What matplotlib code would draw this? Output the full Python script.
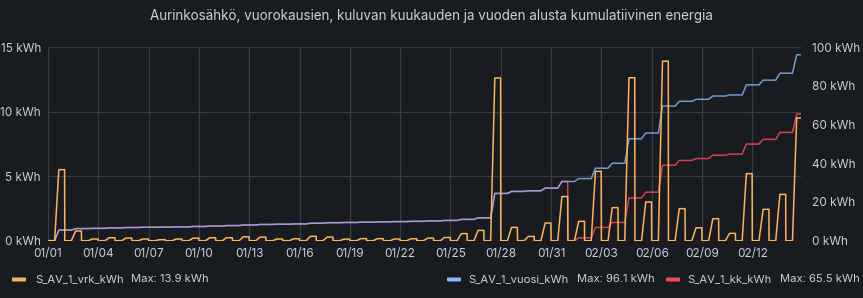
import numpy as np
import pandas as pd
import matplotlib
matplotlib.use("Agg")
import matplotlib.pyplot as plt
import matplotlib.dates as mdates
from matplotlib.patches import FancyBboxPatch

# ---------------- data ----------------
start_date = "2024-01-01"
# daily solar production (kWh), Jan 1 .. Feb 14
daily_kwh = [
    5.50, 0.75, 0.13, 0.23, 0.20, 0.13, 0.08, 0.13, 0.20, 0.23,
    0.23, 0.30, 0.28, 0.13, 0.15, 0.34, 0.28, 0.12, 0.16, 0.16,
    0.13, 0.15, 0.20, 0.25, 0.55, 0.80, 12.60, 1.03, 0.33, 1.37,
    3.42, 1.50, 5.37, 2.56, 12.62, 3.00, 13.90, 2.48, 1.00, 1.70,
    0.57, 5.19, 2.43, 3.59, 9.50,
]
series_names = ["S_AV_1_vrk_kWh", "S_AV_1_vuosi_kWh", "S_AV_1_kk_kWh"]
series_max = ["13.9 kWh", "96.1 kWh", "65.5 kWh"]
left_ticks = [0, 5, 10, 15]
right_ticks = [0, 20, 40, 60, 80, 100]
title = "Aurinkosähkö, vuorokausien, kuluvan kuukauden ja vuoden alusta kumulatiivinen energia"

# intraday accumulation shape (hour of day, fraction of daily total)
prof_hours = [0.0, 9.5, 15.5, 23.75]
prof_frac = [0.0, 0.0, 1.0, 1.0]

# ---------------- build series ----------------
days = pd.date_range(start_date, periods=len(daily_kwh), freq="D")
t, vrk, vuosi, kk = [], [], [], []
cum_year = 0.0
cum_month = 0.0
prev_month = days[0].month
for d, v in zip(days, daily_kwh):
    if d.month != prev_month:
        cum_month = 0.0
        prev_month = d.month
    for h, f in zip(prof_hours, prof_frac):
        t.append(d + pd.Timedelta(hours=h))
        vrk.append(v * f)
        vuosi.append(cum_year + v * f)
        kk.append(cum_month + v * f)
    cum_year += v
    cum_month += v
t = pd.to_datetime(t)

# ---------------- style ----------------
BG = "#181b1f"
TXT = "#ccccdc"
GRID = "#393b40"
C_ORANGE = "#ffb357"
C_BLUE = "#8ab8ff"
C_RED = "#f2495c"
plt.rcParams["font.family"] = ["Inter", "DejaVu Sans"]

W, H = 863, 298
fig = plt.figure(figsize=(W / 100, H / 100), dpi=100, facecolor=BG)
ax = fig.add_axes([48 / W, 1 - 240.7 / H, (800.6 - 48) / W, (240.7 - 47) / H])
ax.set_facecolor(BG)
ax2 = ax.twinx()

x0 = pd.Timestamp(start_date)
x1 = x0 + pd.Timedelta(days=44.88)

ax.plot(t, vrk, color=C_ORANGE, lw=1.1, zorder=3)
ax2.plot(t, kk, color=C_RED, lw=1.1, alpha=0.85, zorder=2)
ax2.plot(t, vuosi, color=C_BLUE, lw=1.1, alpha=0.8, zorder=3)

ax.set_zorder(ax2.get_zorder() + 1)
ax.patch.set_visible(False)
ax2.patch.set_facecolor(BG)

ax.set_ylim(0, 15)
ax2.set_ylim(0, 100)
ax.set_xlim(x0, x1)
ax2.set_xlim(x0, x1)
ax.set_yticks(left_ticks)
ax.set_yticklabels([f"{v} kWh" for v in left_ticks])
ax2.set_yticks(right_ticks)
ax2.set_yticklabels([f"{v} kWh" for v in right_ticks])

xt = pd.date_range(start_date, periods=15, freq="3D")
ax.set_xticks(xt)
ax.xaxis.set_major_formatter(mdates.DateFormatter("%m/%d"))

for a in (ax, ax2):
    for s in a.spines.values():
        s.set_visible(False)
    a.tick_params(colors=TXT, labelsize=8.5, length=0)
ax.tick_params(axis="y", pad=5)
ax2.tick_params(axis="y", pad=8)
ax.tick_params(axis="x", pad=5)
ax.grid(False)
ax2.grid(False)
for v in left_ticks:
    ax2.axhline(v / 15 * 100, color=GRID, lw=0.9, zorder=0)
for d in xt:
    ax2.axvline(d, color=GRID, lw=0.9, zorder=0)

fig.text(431 / W, 1 - 16 / H, title, color=TXT, fontsize=9.7, ha="center", va="center")

# legend
leg_y = 1 - 279.5 / H
items = [
    (12, 35, 131, C_ORANGE),
    (447, 468, 577, C_BLUE),
    (666, 687, 780, C_RED),
]
for (sx, nx, mx, c), name, mxv in zip(items, series_names, series_max):
    fig.patches.append(FancyBboxPatch((sx / W, leg_y - 2 / H), 14 / W, 4 / H,
                                      boxstyle="round,pad=0,rounding_size=0.002",
                                      transform=fig.transFigure, color=c, lw=0))
    fig.text(nx / W, leg_y, name, color=TXT, fontsize=8.1, ha="left", va="center")
    fig.text(mx / W, leg_y, "Max: " + mxv, color=TXT, fontsize=8.1, ha="left", va="center")

fig.savefig("out.png", dpi=100, facecolor=BG)
